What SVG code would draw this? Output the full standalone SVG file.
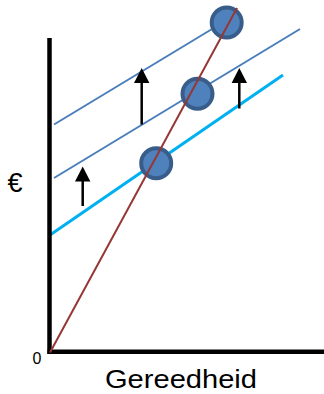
<svg xmlns="http://www.w3.org/2000/svg" width="324" height="394" viewBox="0 0 324 394">
<style>
.axis{stroke:#000;stroke-width:4.5;fill:none}
.blue{stroke:#4a7ebb;stroke-width:2;fill:none}
.cyan{stroke:#00b0f0;stroke-width:3;fill:none}
.red{stroke:#953735;stroke-width:2;fill:none}
.pt{fill:#4f81bd;stroke:#385d8a;stroke-width:4}
.shaft{stroke:#000;stroke-width:2.5;fill:none}
.head{fill:#000}
.lbl{font-family:"Liberation Sans",Arial,sans-serif;fill:#000}
</style>
<rect width="324" height="394" fill="#fff"/>
<g id="connectors">
<line class="blue" x1="54" y1="124.5" x2="222" y2="23"/>
<line class="blue" x1="54" y1="178" x2="300" y2="29"/>
<line class="cyan" x1="50" y1="235" x2="283" y2="75"/>
</g>
<g id="axes">
<line class="axis" x1="49.5" y1="38" x2="49.5" y2="354"/>
<line class="axis" x1="47.5" y1="351.7" x2="324" y2="351.7"/>
</g>
<g id="point-bottom"><circle class="pt" cx="156.2" cy="163.3" r="15"/></g>
<g id="point-middle"><circle class="pt" cx="197.5" cy="93.7" r="15"/></g>
<g id="point-top"><circle class="pt" cx="226.7" cy="22.5" r="15"/></g>
<g id="red-line"><line class="red" x1="50" y1="352.5" x2="237" y2="8"/></g>
<g id="arrow-1"><line class="shaft" x1="141.7" y1="124.5" x2="141.7" y2="80"/><polygon class="head" points="141.7,68 134,83 149.4,83"/></g>
<g id="arrow-2"><line class="shaft" x1="239.3" y1="108.5" x2="239.3" y2="80"/><polygon class="head" points="239.3,68 231.6,83 247,83"/></g>
<g id="arrow-3"><line class="shaft" x1="82.7" y1="206" x2="82.7" y2="178"/><polygon class="head" points="82.7,166.5 75,181.5 90.4,181.5"/></g>
<g id="labels">
<text class="lbl" x="7.5" y="192" font-size="27">€</text>
<text class="lbl" x="32.5" y="364" font-size="16">0</text>
<text class="lbl" x="105" y="388" font-size="26" textLength="152" lengthAdjust="spacingAndGlyphs">Gereedheid</text>
</g>
</svg>
